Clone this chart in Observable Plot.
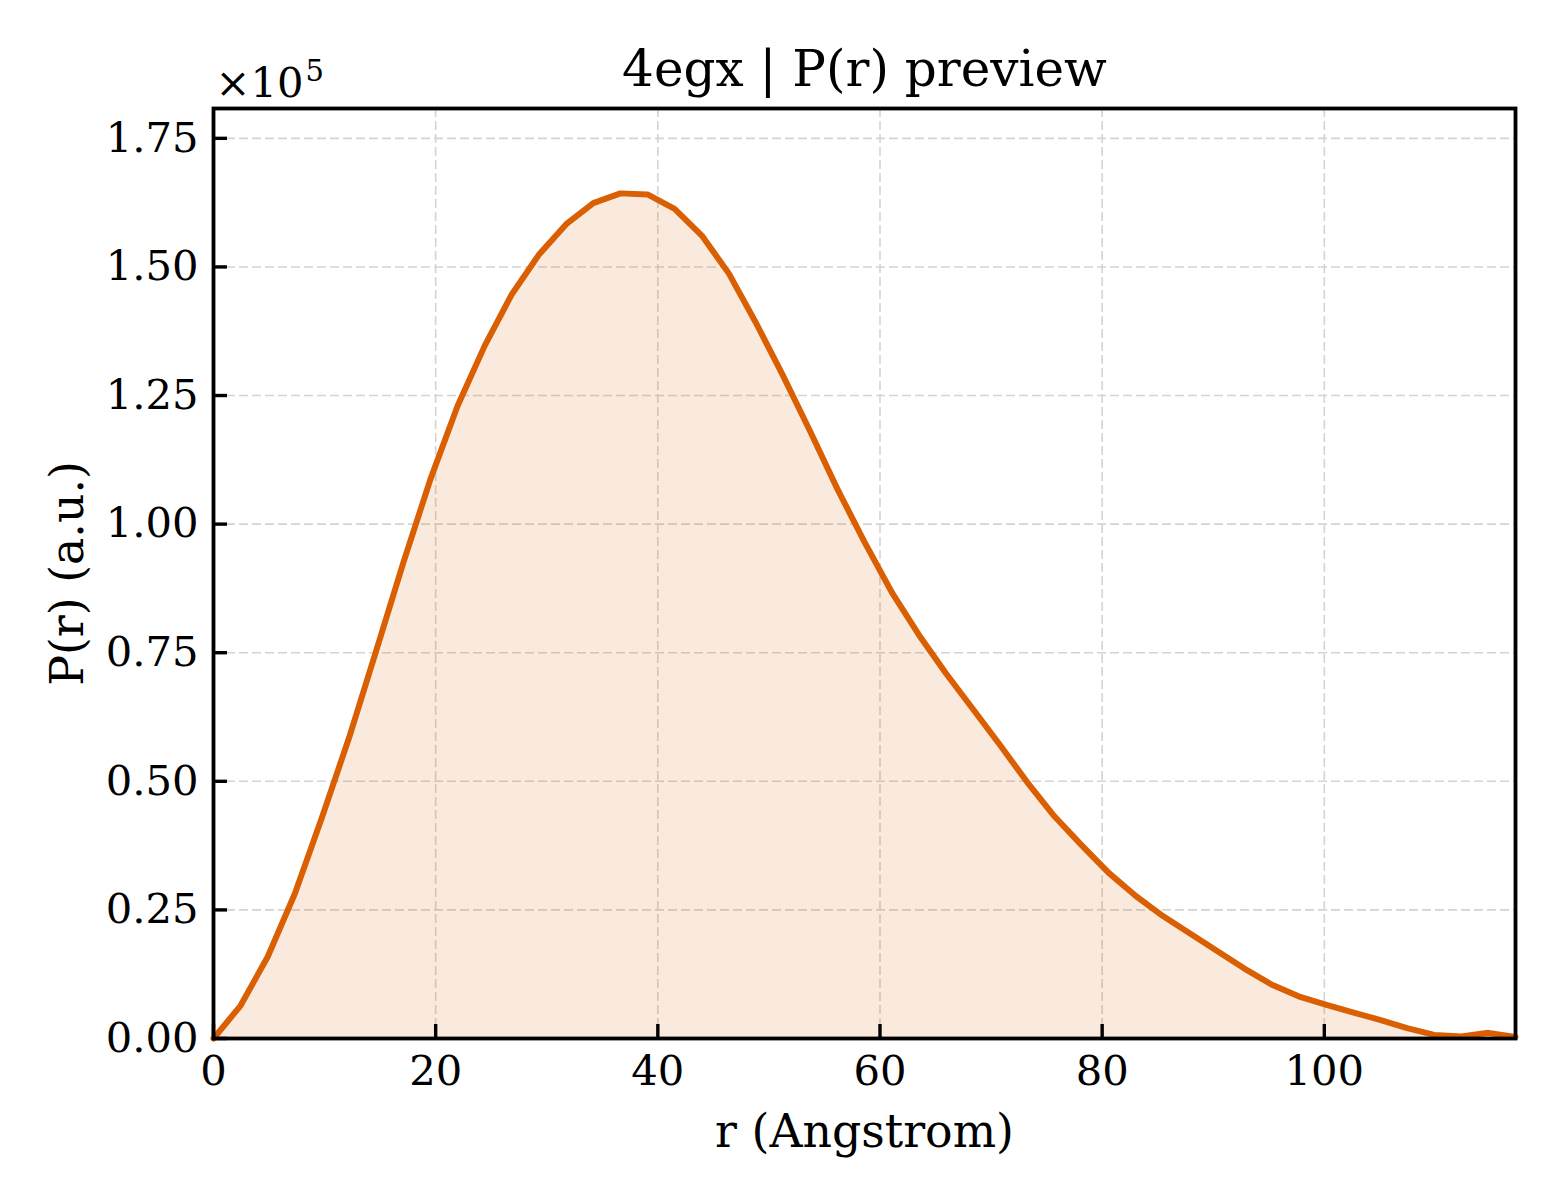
<!DOCTYPE html>
<html><head><meta charset="utf-8">
<script src="https://cdn.jsdelivr.net/npm/d3@7"></script>
<script src="https://cdn.jsdelivr.net/npm/@observablehq/plot@0.6"></script>
<style>html,body{margin:0;padding:0;background:#fff} #chart svg{display:block}</style>
</head><body><div id="chart"></div>
<script>
const rValues = [0, 2.44, 4.88, 7.33, 9.77, 12.21, 14.65, 17.09, 19.54, 21.98, 24.42, 26.86, 29.30, 31.75, 34.19, 36.63, 39.07, 41.51, 43.96, 46.40, 48.84, 51.28, 53.72, 56.17, 58.61, 61.05, 63.49, 65.93, 68.38, 70.82, 73.26, 75.70, 78.14, 80.59, 83.03, 85.47, 87.91, 90.35, 92.80, 95.24, 97.68, 100.12, 102.56, 105.00, 107.45, 109.89, 112.33, 114.77, 117.21];
const prValues = [0, 0.064, 0.159, 0.282, 0.430, 0.585, 0.754, 0.925, 1.088, 1.230, 1.347, 1.447, 1.524, 1.583, 1.624, 1.643, 1.641, 1.613, 1.561, 1.487, 1.391, 1.288, 1.180, 1.068, 0.965, 0.868, 0.785, 0.710, 0.640, 0.570, 0.498, 0.432, 0.376, 0.322, 0.277, 0.238, 0.204, 0.170, 0.136, 0.105, 0.082, 0.066, 0.051, 0.036, 0.020, 0.007, 0.004, 0.011, 0.003];
const xTicks = [0, 20, 40, 60, 80, 100];
const yTicks = [0, 0.25, 0.5, 0.75, 1.0, 1.25, 1.5, 1.75];
const titleText = "4egx | P(r) preview";
const xLabel = "r (Angstrom)";
const yLabel = "P(r) (a.u.)";
const offsetBase = "×10";
const offsetExp = "5";

const data = rValues.map((r, i) => ({r, p: prValues[i]}));
const lineColor = "#d95f02";
const font = "'DejaVu Serif', serif";
const tickLen = 14;

const chart = Plot.plot({
  width: 1560, height: 1200,
  marginLeft: 213, marginRight: 45, marginTop: 108, marginBottom: 162,
  style: {fontFamily: font, fontSize: "41.7px", color: "#000", background: "#fff"},
  x: {domain: [0, 117.21]},
  y: {domain: [0, 1.808]},
  marks: [
    Plot.gridX(xTicks, {stroke: "#d4d4d4", strokeOpacity: 1, strokeWidth: 1.6, strokeDasharray: "9,4"}),
    Plot.gridY(yTicks, {stroke: "#d4d4d4", strokeOpacity: 1, strokeWidth: 1.6, strokeDasharray: "9,4"}),
    Plot.areaY(data, {x: "r", y: "p", fill: lineColor, fillOpacity: 0.13}),
    Plot.lineY(data, {x: "r", y: "p", stroke: lineColor, strokeWidth: 6}),
    Plot.axisX(xTicks, {tickSize: tickLen, dy: -tickLen, strokeWidth: 3.4, strokeOpacity: 1, tickFormat: () => "", label: null}),
    Plot.axisY(yTicks, {tickSize: tickLen, dx: tickLen, strokeWidth: 3.4, strokeOpacity: 1, tickFormat: () => "", label: null}),
    Plot.axisX(xTicks, {tickSize: 0, tickPadding: 17, fontSize: 41.7, tickFormat: d => String(d), label: null}),
    Plot.axisY(yTicks, {tickSize: 0, tickPadding: 15, fontSize: 41.7, tickFormat: d3.format(".2f"), label: null}),
    Plot.frame({stroke: "#000", strokeWidth: 3.8}),
    Plot.text([titleText], {frameAnchor: "top", lineAnchor: "bottom", dy: -23, fontSize: 50, fill: "#000"}),
    Plot.text([xLabel], {frameAnchor: "bottom", lineAnchor: "bottom", dy: 108, fontSize: 45.8, fill: "#000"}),
    Plot.text([yLabel], {frameAnchor: "left", textAnchor: "middle", lineAnchor: "bottom", rotate: -90, dx: -131, fontSize: 45.8, fill: "#000"}),
    Plot.text([offsetBase], {frameAnchor: "top-left", textAnchor: "start", lineAnchor: "bottom", dx: 2, dy: -12, fontSize: 41.7, fill: "#000"}),
    Plot.text([offsetExp], {frameAnchor: "top-left", textAnchor: "start", lineAnchor: "bottom", dx: 92, dy: -28, fontSize: 29, fill: "#000"})
  ]
});
document.getElementById("chart").appendChild(chart);
</script>
</body></html>
